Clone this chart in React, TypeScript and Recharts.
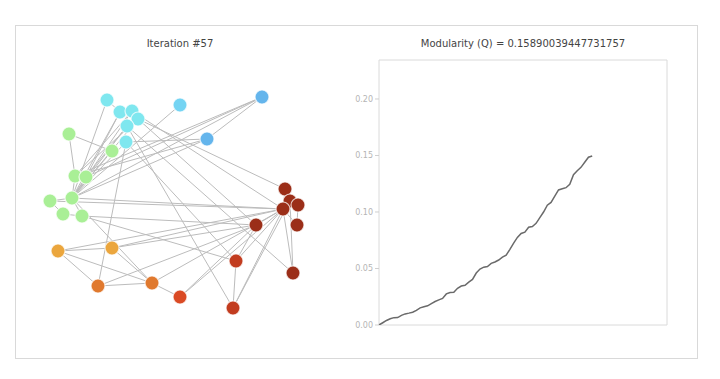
import React from 'react';
import { ScatterChart, Scatter, XAxis, YAxis, LineChart, Line, ReferenceArea } from 'recharts';

// ---- Network layout (layout units) ----
const nodeIds = ['C1','C2','C3','C4','C5','C6','C7','B1','B2','G1','G2','G3','G4','G5','G6','G7','G8','Y1','Y2','O1','O2','R1','R2','R3','D1','D2','D3','D4','D5','D6','D7'];
const nodeX = [67, 80, 92, 98, 87, 86, 140, 222, 167, 29, 72, 35, 46, 32, 10, 23, 42, 18, 72, 58, 112, 140, 196, 193, 216, 245, 250, 258, 243, 257, 253];
const nodeY = [10, 22, 21, 29, 36, 52, 15, 7, 49, 44, 61, 86, 87, 108, 111, 124, 126, 161, 158, 196, 193, 207, 171, 218, 135, 99, 111, 115, 119, 135, 183];
const nodeGroup = ['cyan','cyan','cyan','cyan','cyan','cyan','sky','blue','blue','green','green','green','green','green','green','green','green','amber','amber','orange','orange','vermil','red','red','dark','dark','dark','dark','dark','dark','dark'];

const groupColors: Record<string, string> = {
  cyan: '#7fe7ef',
  sky: '#74d4f3',
  blue: '#64b5ec',
  green: '#a9ef96',
  amber: '#eba63d',
  orange: '#e0792e',
  vermil: '#da4a24',
  red: '#c23c1f',
  dark: '#9b2e18',
};

const edges: [string, string][] = [
  ['C1','C2'],['C1','G5'],['C2','G5'],['C3','G5'],['C4','G5'],['C5','G5'],['C6','G5'],['C7','G5'],['C2','G4'],['C3','G3'],['C5','G4'],['C4','G3'],
  ['G1','G2'],['G1','G3'],['G3','G5'],['G4','G5'],['G5','G6'],['G6','G7'],['G7','G8'],['G5','G8'],['G2','G5'],
  ['B1','B2'],['B1','G4'],['B1','G5'],['B1','G3'],['B2','G3'],['B2','G5'],['B2','C6'],
  ['C4','D2'],['C3','D5'],['C5','R3'],['C5','D7'],['C6','R2'],['C4','D1'],
  ['G5','D5'],['G6','D5'],['G8','R2'],['G8','D1'],['G5','O2'],
  ['Y1','Y2'],['Y1','O1'],['Y1','O2'],['Y2','O2'],['O1','O2'],['O2','R1'],['O1','C6'],['Y1','D5'],['Y2','D5'],['Y2','D1'],['O1','D1'],['O2','D5'],['R1','D5'],['R1','D1'],
  ['R2','R3'],['R2','D5'],['R3','D5'],['R3','D3'],['R2','D1'],
  ['D1','D5'],['D2','D5'],['D3','D5'],['D4','D5'],['D6','D5'],['D7','D5'],['D7','D3'],['D6','D4'],['D2','D3'],
];

// ---- Modularity series ----
const iterations = Array.from({ length: 58 }, (_, i) => i);
const modularity = [
  0, 0.002, 0.004, 0.0055, 0.0065, 0.0066, 0.0085, 0.0098, 0.0105, 0.0113,
  0.013, 0.0152, 0.0162, 0.017, 0.019, 0.0208, 0.0222, 0.0235, 0.0275, 0.0288,
  0.029, 0.0325, 0.0345, 0.0352, 0.038, 0.0403, 0.046, 0.0495, 0.0512, 0.0518,
  0.0545, 0.0558, 0.0575, 0.06, 0.0618, 0.067, 0.0725, 0.0775, 0.081, 0.0822,
  0.0865, 0.0872, 0.09, 0.095, 0.1, 0.106, 0.1085, 0.114, 0.1195, 0.1205,
  0.1215, 0.1245, 0.133, 0.1365, 0.1395, 0.144, 0.1485, 0.1496,
];
const yTicks = [0, 0.05, 0.1, 0.15, 0.2];

const nodes = nodeIds.map((id, i) => ({ id, x: nodeX[i], y: nodeY[i], group: nodeGroup[i] }));
const nodeById: Record<string, { id: string; x: number; y: number; group: string }> = {};
nodes.forEach((n) => (nodeById[n.id] = n));
const lineData = iterations.map((it, i) => ({ iter: it, q: modularity[i] }));

const NodeShape = (props: any) => {
  const { cx, cy, payload } = props;
  return (
    <circle cx={cx} cy={cy} r={7} fill={groupColors[payload.group]} stroke="#ffffff" strokeOpacity={0.75} strokeWidth={1.2} />
  );
};

const EmptyShape = () => <g />;

const titleStyle: React.CSSProperties = {
  position: 'absolute',
  fontFamily: 'DejaVu Sans, sans-serif',
  fontSize: 10,
  color: '#444',
  textAlign: 'center',
  lineHeight: '12px',
  whiteSpace: 'nowrap',
};

export default function App() {
  return (
    <div style={{ position: 'absolute', left: 0, top: 0, width: 720, height: 379, background: '#fff', overflow: 'hidden' }}>
      <div style={{ position: 'absolute', left: 15, top: 25, width: 681, height: 332, border: '1px solid #d9d9d9' }} />
      <div style={{ ...titleStyle, left: 80, top: 38, width: 200 }}>Iteration #57</div>
      <div style={{ ...titleStyle, left: 373, top: 38, width: 300 }}>Modularity (Q) = 0.15890039447731757</div>

      <div style={{ position: 'absolute', left: 0, top: 0 }}>
        <ScatterChart width={340} height={379} margin={{ top: 0, right: 0, bottom: 0, left: 0 }}>
          <XAxis dataKey="x" type="number" domain={[-40, 300]} hide allowDataOverflow />
          <YAxis dataKey="y" type="number" domain={[-90, 289]} reversed hide allowDataOverflow />
          {edges.map(([a, b], i) => (
            <Scatter
              key={'e' + i}
              data={[nodeById[a], nodeById[b]]}
              line={{ stroke: '#bcbcbc', strokeWidth: 1 }}
              shape={EmptyShape}
              isAnimationActive={false}
              legendType="none"
            />
          ))}
          <Scatter data={nodes} shape={NodeShape} isAnimationActive={false} legendType="none" />
        </ScatterChart>
      </div>

      <div style={{ position: 'absolute', left: 330, top: 0 }}>
        <LineChart width={380} height={379} data={lineData} margin={{ top: 60, right: 43, bottom: 54, left: 9 }}>
          <XAxis dataKey="iter" type="number" domain={[0, 77]} hide />
          <YAxis
            type="number"
            domain={[0, 0.2345]}
            ticks={yTicks}
            tickFormatter={(v: number) => v.toFixed(2)}
            width={40}
            axisLine={false}
            tickLine={{ stroke: '#cfcfcf' }}
            tickSize={4}
            tick={{ fill: '#b5b5b5', fontSize: 8, fontFamily: 'DejaVu Sans, sans-serif' }}
            allowDataOverflow
          />
          <ReferenceArea x1={0} x2={77} y1={0} y2={0.2345} fill="none" fillOpacity={0} stroke="#dadada" strokeWidth={1} ifOverflow="visible" />
          <Line dataKey="q" type="linear" stroke="#6a6a6a" strokeWidth={1.5} dot={false} isAnimationActive={false} />
        </LineChart>
      </div>
    </div>
  );
}
